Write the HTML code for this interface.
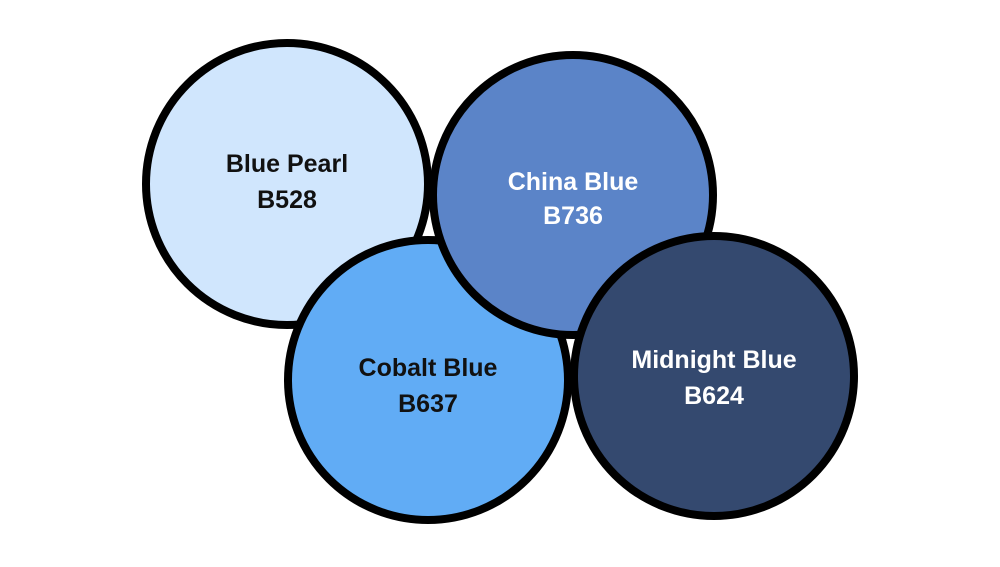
<!DOCTYPE html>
<html><head><style>body{margin:0;background:#fff}</style></head><body>
<svg width="1000" height="562" xmlns="http://www.w3.org/2000/svg" font-family="Liberation Sans, sans-serif" font-weight="bold" font-size="25" text-anchor="middle">
<circle cx="287" cy="184" r="141" fill="#d0e6fd" stroke="#000" stroke-width="8"/>
<text x="287" y="172" fill="#111">Blue Pearl</text><text x="287" y="208" fill="#111">B528</text>
<circle cx="428" cy="380" r="140" fill="#61acf5" stroke="#000" stroke-width="8"/>
<text x="428" y="376" fill="#111">Cobalt Blue</text><text x="428" y="412" fill="#111">B637</text>
<circle cx="573" cy="195" r="140" fill="#5b84c8" stroke="#000" stroke-width="8"/>
<text x="573" y="190" fill="#fff">China Blue</text><text x="573" y="224" fill="#fff">B736</text>
<circle cx="714" cy="376" r="140" fill="#34496f" stroke="#000" stroke-width="8"/>
<text x="714" y="368" fill="#fff">Midnight Blue</text><text x="714" y="404" fill="#fff">B624</text>
</svg>
</body></html>
